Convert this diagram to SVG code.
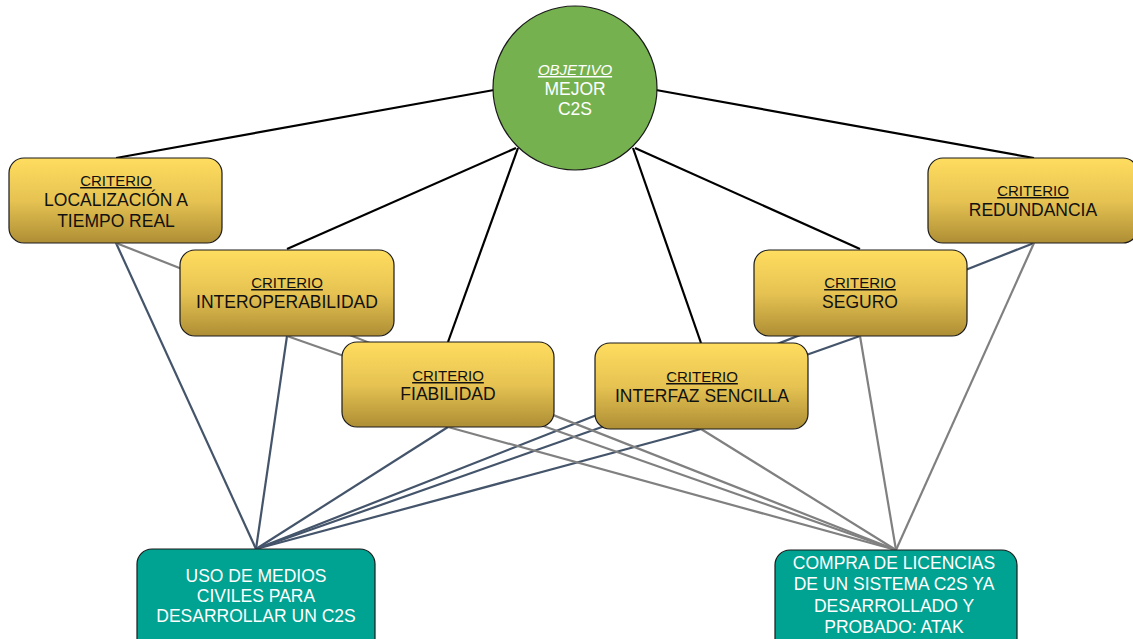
<svg xmlns="http://www.w3.org/2000/svg" width="1133" height="639" viewBox="0 0 1133 639">
<defs>
<linearGradient id="gold" x1="0" y1="0" x2="0" y2="1">
<stop offset="0" stop-color="#FFDD5F"/>
<stop offset="0.5" stop-color="#E6C352"/>
<stop offset="1" stop-color="#AE8E35"/>
</linearGradient>
<style>
.crit{fill:url(#gold);stroke:#1a1a1a;stroke-width:1.2}
.alt{fill:#00A291;stroke:#1a1a1a;stroke-width:1.2}
.t{font-family:"Liberation Sans",Arial,sans-serif;text-anchor:middle}
.k{font-size:15px;fill:#111;text-decoration:underline}
.l{font-size:17.5px;fill:#111}
.w{font-size:17.5px;fill:#fff}
.blk{stroke:#000;stroke-width:2.2;fill:none}
.sl{stroke:#44546A;stroke-width:2.2;fill:none}
.gr{stroke:#808080;stroke-width:2.2;fill:none}
</style>
</defs>
<rect width="1133" height="639" fill="#fff"/>
<g id="connectors">
<line class="blk" x1="494" y1="90" x2="116" y2="158"/>
<line class="blk" x1="516" y1="148" x2="287" y2="249"/>
<line class="blk" x1="518" y1="148" x2="448" y2="342"/>
<line class="blk" x1="633" y1="148" x2="701" y2="343"/>
<line class="blk" x1="635" y1="148" x2="860" y2="249"/>
<line class="blk" x1="656" y1="90" x2="1034" y2="158"/>
<line class="sl" x1="116" y1="243" x2="256" y2="549"/>
<line class="sl" x1="287" y1="336" x2="256" y2="549"/>
<line class="sl" x1="448" y1="427" x2="256" y2="549"/>
<line class="sl" x1="701" y1="429" x2="256" y2="549"/>
<line class="sl" x1="860" y1="336" x2="256" y2="549"/>
<line class="sl" x1="1034" y1="243" x2="256" y2="549"/>
<line class="gr" x1="116" y1="243" x2="896" y2="550"/>
<line class="gr" x1="287" y1="336" x2="896" y2="550"/>
<line class="gr" x1="448" y1="427" x2="896" y2="550"/>
<line class="gr" x1="701" y1="429" x2="896" y2="550"/>
<line class="gr" x1="860" y1="336" x2="896" y2="550"/>
<line class="gr" x1="1034" y1="243" x2="896" y2="550"/>
</g>
<g id="objetivo">
<circle cx="575" cy="88" r="82" fill="#76B150" stroke="#1a1a1a" stroke-width="1.2"/>
<text class="t" x="575" y="75" font-size="15" fill="#fff" font-style="italic" text-decoration="underline">OBJETIVO</text>
<text class="t w" x="575" y="95">MEJOR</text>
<text class="t w" x="575" y="115">C2S</text>
</g>
<g id="localizacion">
<rect class="crit" x="9" y="158" width="213" height="85" rx="15"/>
<text class="t k" x="116" y="186">CRITERIO</text>
<text class="t l" x="116" y="206">LOCALIZACIÓN A</text>
<text class="t l" x="116" y="227">TIEMPO REAL</text>
</g>
<g id="interoperabilidad">
<rect class="crit" x="180" y="250" width="214" height="86" rx="15"/>
<text class="t k" x="287" y="288">CRITERIO</text>
<text class="t l" x="287" y="308">INTEROPERABILIDAD</text>
</g>
<g id="redundancia">
<rect class="crit" x="928" y="158" width="210" height="85" rx="15"/>
<text class="t k" x="1033" y="196">CRITERIO</text>
<text class="t l" x="1033" y="216">REDUNDANCIA</text>
</g>
<g id="seguro">
<rect class="crit" x="754" y="250" width="213" height="86" rx="15"/>
<text class="t k" x="860" y="288">CRITERIO</text>
<text class="t l" x="860" y="308">SEGURO</text>
</g>
<g id="fiabilidad">
<rect class="crit" x="342" y="342" width="212" height="85" rx="15"/>
<text class="t k" x="448" y="381">CRITERIO</text>
<text class="t l" x="448" y="400">FIABILIDAD</text>
</g>
<g id="interfaz">
<rect class="crit" x="595" y="343" width="213" height="86" rx="15"/>
<text class="t k" x="702" y="382">CRITERIO</text>
<text class="t l" x="702" y="402">INTERFAZ SENCILLA</text>
</g>
<g id="uso">
<rect class="alt" x="137" y="549" width="238" height="110" rx="15"/>
<text class="t w" x="256" y="582">USO DE MEDIOS</text>
<text class="t w" x="256" y="602">CIVILES PARA</text>
<text class="t w" x="256" y="622">DESARROLLAR UN C2S</text>
</g>
<g id="compra">
<rect class="alt" x="775" y="550" width="242" height="110" rx="15"/>
<text class="t w" x="894" y="569">COMPRA DE LICENCIAS</text>
<text class="t w" x="894" y="590">DE UN SISTEMA C2S YA</text>
<text class="t w" x="894" y="612">DESARROLLADO Y</text>
<text class="t w" x="894" y="633">PROBADO: ATAK</text>
</g>
</svg>
